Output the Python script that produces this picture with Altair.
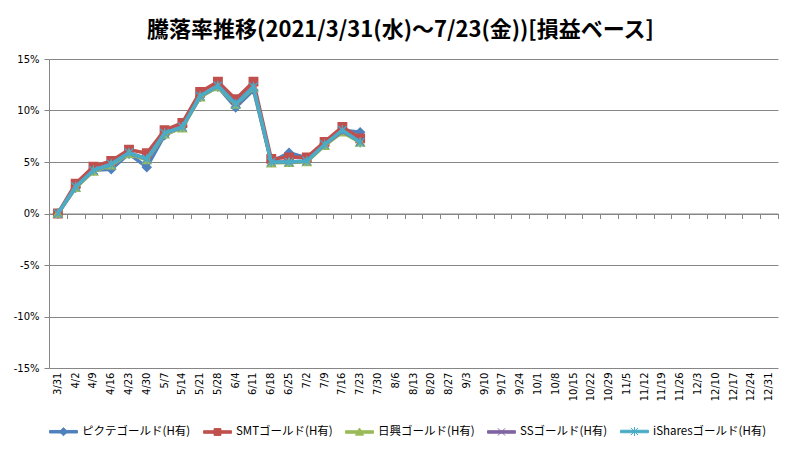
import altair as alt
import pandas as pd

dates = ['3/31', '4/2', '4/9', '4/16', '4/23', '4/30', '5/7', '5/14', '5/21', '5/28',
         '6/4', '6/11', '6/18', '6/25', '7/2', '7/9', '7/16', '7/23', '7/30', '8/6',
         '8/13', '8/20', '8/27', '9/3', '9/10', '9/17', '9/24', '10/1', '10/8', '10/15',
         '10/22', '10/29', '11/5', '11/12', '11/19', '11/26', '12/3', '12/10', '12/17',
         '12/24', '12/31']

series_names = ['ピクテゴールド(H有)', 'SMTゴールド(H有)', '日興ゴールド(H有)',
                'SSゴールド(H有)', 'iSharesゴールド(H有)']

# weekly change rate (%), 3/31 .. 7/23
pictet = [0, 2.5, 4.2, 4.3, 5.8, 4.5, 7.6, 8.4, 11.3, 12.3, 10.3, 12.0, 5.0, 5.9, 5.4, 6.8, 8.1, 7.9]
smt = [0, 2.9, 4.55, 5.1, 6.2, 5.85, 8.1, 8.8, 11.8, 12.8, 11.1, 12.8, 5.3, 5.45, 5.45, 6.95, 8.4, 7.3]
nikko = [0, 2.5, 4.1, 4.7, 5.8, 5.2, 7.7, 8.3, 11.3, 12.3, 10.6, 12.2, 4.9, 4.95, 5.0, 6.6, 7.9, 6.9]
ss = [0, 2.6, 4.2, 4.8, 5.9, 5.3, 7.8, 8.4, 11.4, 12.4, 10.7, 12.3, 5.0, 5.0, 5.1, 6.7, 8.0, 7.0]
ishares = [0, 2.6, 4.2, 4.8, 5.9, 5.3, 7.8, 8.4, 11.4, 12.4, 10.6, 12.3, 5.0, 5.0, 5.1, 6.7, 8.1, 6.9]

colors = ['#4F81BD', '#C0504D', '#9BBB59', '#8064A2', '#4BACC6']
markers = ['diamond', 'square', 'triangle-up',
           'M-1,-1L1,1M-1,1L1,-1',
           'M-1,-1L1,1M-1,1L1,-1M0,-1.2L0,1.2']
marker_widths = [1.5, 1.5, 1.5, 1.2, 1.2]
# legend symbol = short thick line with the marker on top
LINE = 'M-1.55,-0.14H1.55V0.14H-1.55Z'
legend_symbols = [
    LINE + 'M0,-0.45L0.45,0L0,0.45L-0.45,0Z',
    LINE + 'M-0.38,-0.38H0.38V0.38H-0.38Z',
    LINE + 'M0,-0.45L0.45,0.35H-0.45Z',
    LINE + 'M-0.4,-0.4L0.4,0.4M-0.4,0.4L0.4,-0.4',
    LINE + 'M-0.4,-0.4L0.4,0.4M-0.4,0.4L0.4,-0.4M0,-0.5V0.5',
]

rows = []
for name, vals in zip(series_names, [pictet, smt, nikko, ss, ishares]):
    for d, v in zip(dates, vals):
        rows.append({'date': d, 'series': name, 'value': v})
df = pd.DataFrame(rows)

GRAY = '#868686'

x_scale = alt.Scale(type='band', domain=dates, paddingInner=0, paddingOuter=0)

label_axis = alt.Axis(orient='bottom', title=None, labelAngle=-90, domain=False, ticks=False,
                      grid=False, labelPadding=4, labelFont='DejaVu Sans', labelFontSize=10,
                      labelColor='black', labelOverlap=False)
# category axis crossing at 0%, ticks between categories
tick_axis = alt.Axis(orient='bottom', title=None, labels=False, grid=False, offset=-154.5,
                     domain=True, domainColor=GRAY, ticks=True, tickColor=GRAY, tickSize=5,
                     tickBand='extent', zindex=0)
y_axis = alt.Axis(values=[-15, -10, -5, 0, 5, 10, 15], labelExpr="datum.value + '%'",
                  title=None, domainColor=GRAY, tickColor=GRAY, tickSize=5, gridColor=GRAY,
                  labelPadding=5, labelFont='DejaVu Sans', labelFontSize=10, labelColor='black')


def x_enc(axis):
    return alt.X('date:N', scale=x_scale, bandPosition=0.5, axis=axis)


y_enc = alt.Y('value:Q', scale=alt.Scale(domain=[-15, 15], nice=False), axis=y_axis)

legend = alt.Legend(orient='none', legendX=5, legendY=363, direction='horizontal', columns=5,
                    title=None, symbolSize=324, symbolStrokeWidth=1, symbolOpacity=1,
                    labelFont='Noto Sans CJK JP', labelFontSize=11.5, labelColor='black',
                    labelOffset=9, columnPadding=10, padding=0, labelLimit=0)

legend_layer = alt.Chart(df[df['date'] == dates[0]]).mark_point(opacity=0, filled=True).encode(
    x=x_enc(tick_axis),
    y=y_enc,
    fill=alt.Fill('series:N', scale=alt.Scale(domain=series_names, range=colors), legend=legend),
    stroke=alt.Stroke('series:N', scale=alt.Scale(domain=series_names, range=colors), legend=legend),
    shape=alt.Shape('series:N', scale=alt.Scale(domain=series_names, range=legend_symbols), legend=legend),
)

layers = [legend_layer]
for i, name in enumerate(series_names):
    sub = alt.Chart(df[df['series'] == name])
    line = sub.mark_line(color=colors[i], strokeWidth=3.5).encode(
        x=x_enc(label_axis if i == 0 else None), y=y_enc)
    pts = sub.mark_point(shape=markers[i], filled=True, fill=colors[i], stroke=colors[i],
                         size=70, strokeWidth=marker_widths[i], opacity=1).encode(
        x=x_enc(None), y=y_enc)
    layers += [line, pts]

chart = alt.layer(*layers).resolve_axis(x='independent').properties(
    width=729,
    height=309,
    autosize=alt.AutoSizeParams(type='none'),
    padding={'left': 41, 'top': 51, 'right': 11, 'bottom': 70},
    title=alt.TitleParams(
        text='騰落率推移(2021/3/31(水)～7/23(金))[損益ベース]',
        font='Noto Sans CJK JP',
        fontSize=22,
        fontWeight='bold',
        color='black',
        anchor='middle',
        dx=-13,
        offset=12
    )
).configure_view(
    stroke=None
)

chart.save('out.html', embed_options={'renderer': 'svg', 'actions': False})
